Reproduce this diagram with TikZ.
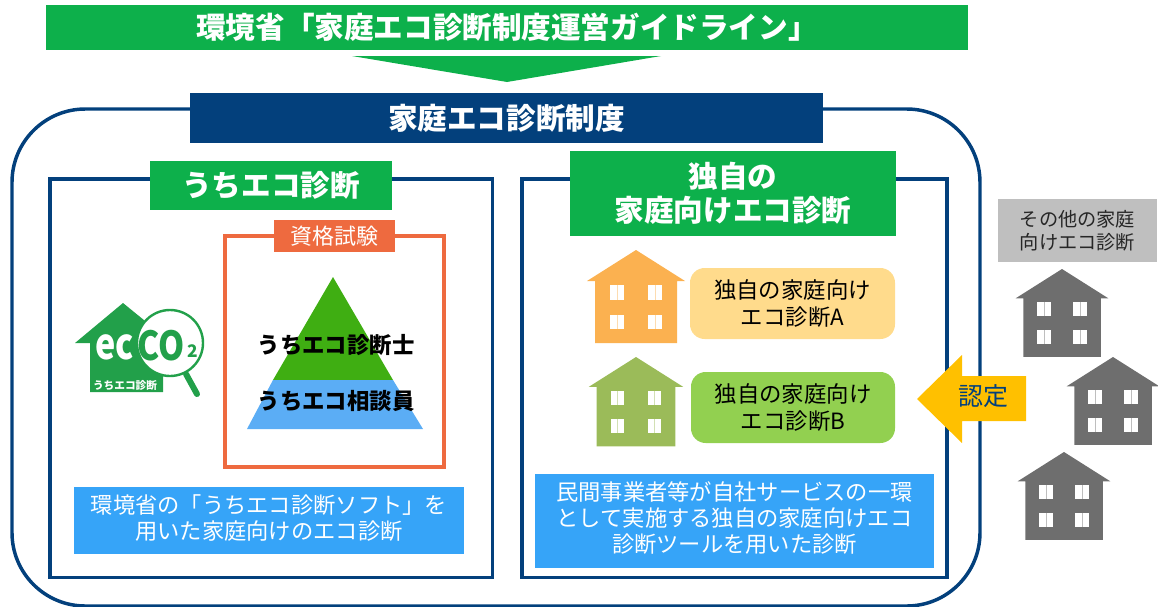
\documentclass[tikz,border=0pt]{standalone}
\usepackage{fontspec}
\setmainfont{Noto Sans CJK JP}
\definecolor{navy}{HTML}{03407C}
\definecolor{bargreen}{HTML}{0DB04B}
\definecolor{skyblue}{HTML}{36A4F8}
\definecolor{framered}{HTML}{EE6A3F}
\definecolor{logogreen}{HTML}{22A04A}
\definecolor{pyrgreen}{HTML}{3FAE12}
\definecolor{pyrblue}{HTML}{5BADF5}
\definecolor{houseorange}{HTML}{FBB150}
\definecolor{houseolive}{HTML}{9BBB59}
\definecolor{housegrey}{HTML}{6E6E6E}
\definecolor{kindorange}{HTML}{FFDB8C}
\definecolor{kindgreen}{HTML}{92D050}
\definecolor{labelgrey}{HTML}{BFBFBF}
\definecolor{certyellow}{HTML}{FFC000}
\tikzset{
  size/.style 2 args={minimum width=#1*0.75pt,minimum height=#2*0.75pt},
  box/.style={inner sep=0pt,align=center},
  titlefont/.style={font=\bfseries\fontsize{22.2}{25.5}\selectfont},
  greenbar/.style={box,titlefont,fill=bargreen,text=white},
  bluebar/.style={box,fill=skyblue},
  bluetext/.style={box,text=white,font=\fontsize{16.7}{19.6}\selectfont},
  frame/.style={box,draw=navy,line width=2.4pt},
  kind/.style={box,rounded corners=11pt,text=black,font=\fontsize{16.8}{20}\selectfont},
  pyramidtext/.style={inner sep=0pt,font=\bfseries\fontsize{16.8}{20}\selectfont},
  logotext/.style={inner sep=0pt},
  pics/house/.style={code={
    \fill[#1] (0,0) -- (49,31) -- (41,31) -- (41,93) -- (-41,93) -- (-41,31) -- (-49,31) -- cycle;
    \fill[white] (-26,35) rectangle (-12,50);
    \fill[white] (12,35) rectangle (26,50);
    \fill[white] (-26,65) rectangle (-12,79);
    \fill[white] (12,65) rectangle (26,79);
    \draw[#1!45,line width=0.5pt] (-19,35) -- (-19,50) (19,35) -- (19,50) (-19,65) -- (-19,79) (19,65) -- (19,79);
  }}
}
\begin{document}
\begin{tikzpicture}[x=0.75pt,y=-0.75pt]
    \useasboundingbox (0,0) rectangle (1158,607);

    % outer frame and the two groups
    \node[frame,line width=2.6pt,rounded corners=55pt,size={968}{497}] (frame-all) at (496,357.5) {};
    \node[frame,size={442.5}{398.5}] (frame-uchi) at (271.25,378.25) {};
    \node[frame,size={425}{398.5}] (frame-own) at (734.5,378.25) {};

    % titles
    \node[greenbar,size={922}{45}] (title-guide) at (507,27.5) {環境省「家庭エコ診断制度運営ガイドライン」};
    \fill[bargreen] (352,56) -- (661,56) -- (507,82) -- cycle;
    \node[box,titlefont,fill=navy,text=white,size={633}{50}] (title-system) at (506.5,118) {家庭エコ診断制度};
    \node[greenbar,size={242}{49}] (title-uchi) at (271,185.5) {うちエコ診断};
    \node[greenbar,size={326}{85}] (title-own) at (733,193.5) {独自の\\家庭向けエコ診断};

    % logo
    \fill[logogreen] (123,303) -- (75,343) -- (90,343) -- (90,392) -- (163,392) -- (163,340) -- (150,325) -- cycle;
    \draw[logogreen,line width=4.5pt,line cap=round] (186,374) -- (197,394);
    \draw[logogreen,line width=1.8pt,fill=white] (170,343) circle (33);
    \node[logotext,text=white,font=\bfseries\fontsize{32}{32}\selectfont] (logo-ec) at (114.5,347) {\scalebox{0.8}[1]{ec}};
    \node[logotext,text=logogreen,font=\bfseries\fontsize{25}{25}\selectfont] (logo-co) at (161,346) {\scalebox{1}[1.2]{CO}};
    \node[logotext,text=logogreen,font=\bfseries\fontsize{13}{14}\selectfont] (logo-two) at (193,351) {2};
    \node[logotext,text=white,font=\bfseries\fontsize{8}{10}\selectfont] (logo-text) at (125,385) {うちエコ診断};

    % qualification
    \node[box,draw=framered,line width=2.4pt,size={219}{231}] (frame-exam) at (334.5,351.5) {};
    \node[box,fill=framered,text=white,font=\fontsize{16.5}{20}\selectfont,size={121}{32}] (label-exam) at (334.5,236) {資格試験};
    \fill[pyrgreen] (333,277) -- (393,380) -- (273,380) -- cycle;
    \fill[pyrblue] (273,380) -- (393,380) -- (423,429) -- (247,429) -- cycle;
    \node[pyramidtext] (rank-upper) at (336,345) {うちエコ診断士};
    \node[pyramidtext] (rank-lower) at (336,401) {うちエコ相談員};

    \node[bluebar,size={390}{67}] (note-uchi) at (269,520.5) {};
    \node[bluetext] (note-uchi-text) at (269,518) {環境省の「うちエコ診断ソフト」を\\用いた家庭向けのエコ診断};

    % own tools
    \pic (house-a) at (636,250) {house=houseorange};
    \pic[scale=0.96] (house-b) at (636,357) {house=houseolive};
    \node[kind,fill=kindorange,size={205}{71}] (tool-a) at (792.5,303.5) {独自の家庭向け\\エコ診断A};
    \node[kind,fill=kindgreen,size={204}{71}] (tool-b) at (793,407.5) {独自の家庭向け\\エコ診断B};
    \node[bluebar,size={399}{94}] (note-own) at (734.5,521) {};
    \node[bluetext] (note-own-text) at (734.5,518) {民間事業者等が自社サービスの一環\\として実施する独自の家庭向けエコ\\診断ツールを用いた診断};

    % others
    \node[box,fill=labelgrey,text=black!85,font=\fontsize{14.4}{17.4}\selectfont,size={159}{63}] (label-other) at (1077.5,230.5) {その他の家庭\\向けエコ診断};
    \pic[scale=0.945] (house-c) at (1062,269) {house=housegrey};
    \pic[scale=0.945] (house-d) at (1113,357) {house=housegrey};
    \pic[scale=0.945] (house-e) at (1064,452) {house=housegrey};

    \fill[certyellow] (917,399) -- (962,355) -- (962,376) -- (1026,376) -- (1026,421) -- (962,421) -- (962,443) -- cycle;
    \node[inner sep=0pt,text=navy,font=\fontsize{18.7}{22}\selectfont] (label-cert) at (983,396) {認定};

\end{tikzpicture}
\end{document}
